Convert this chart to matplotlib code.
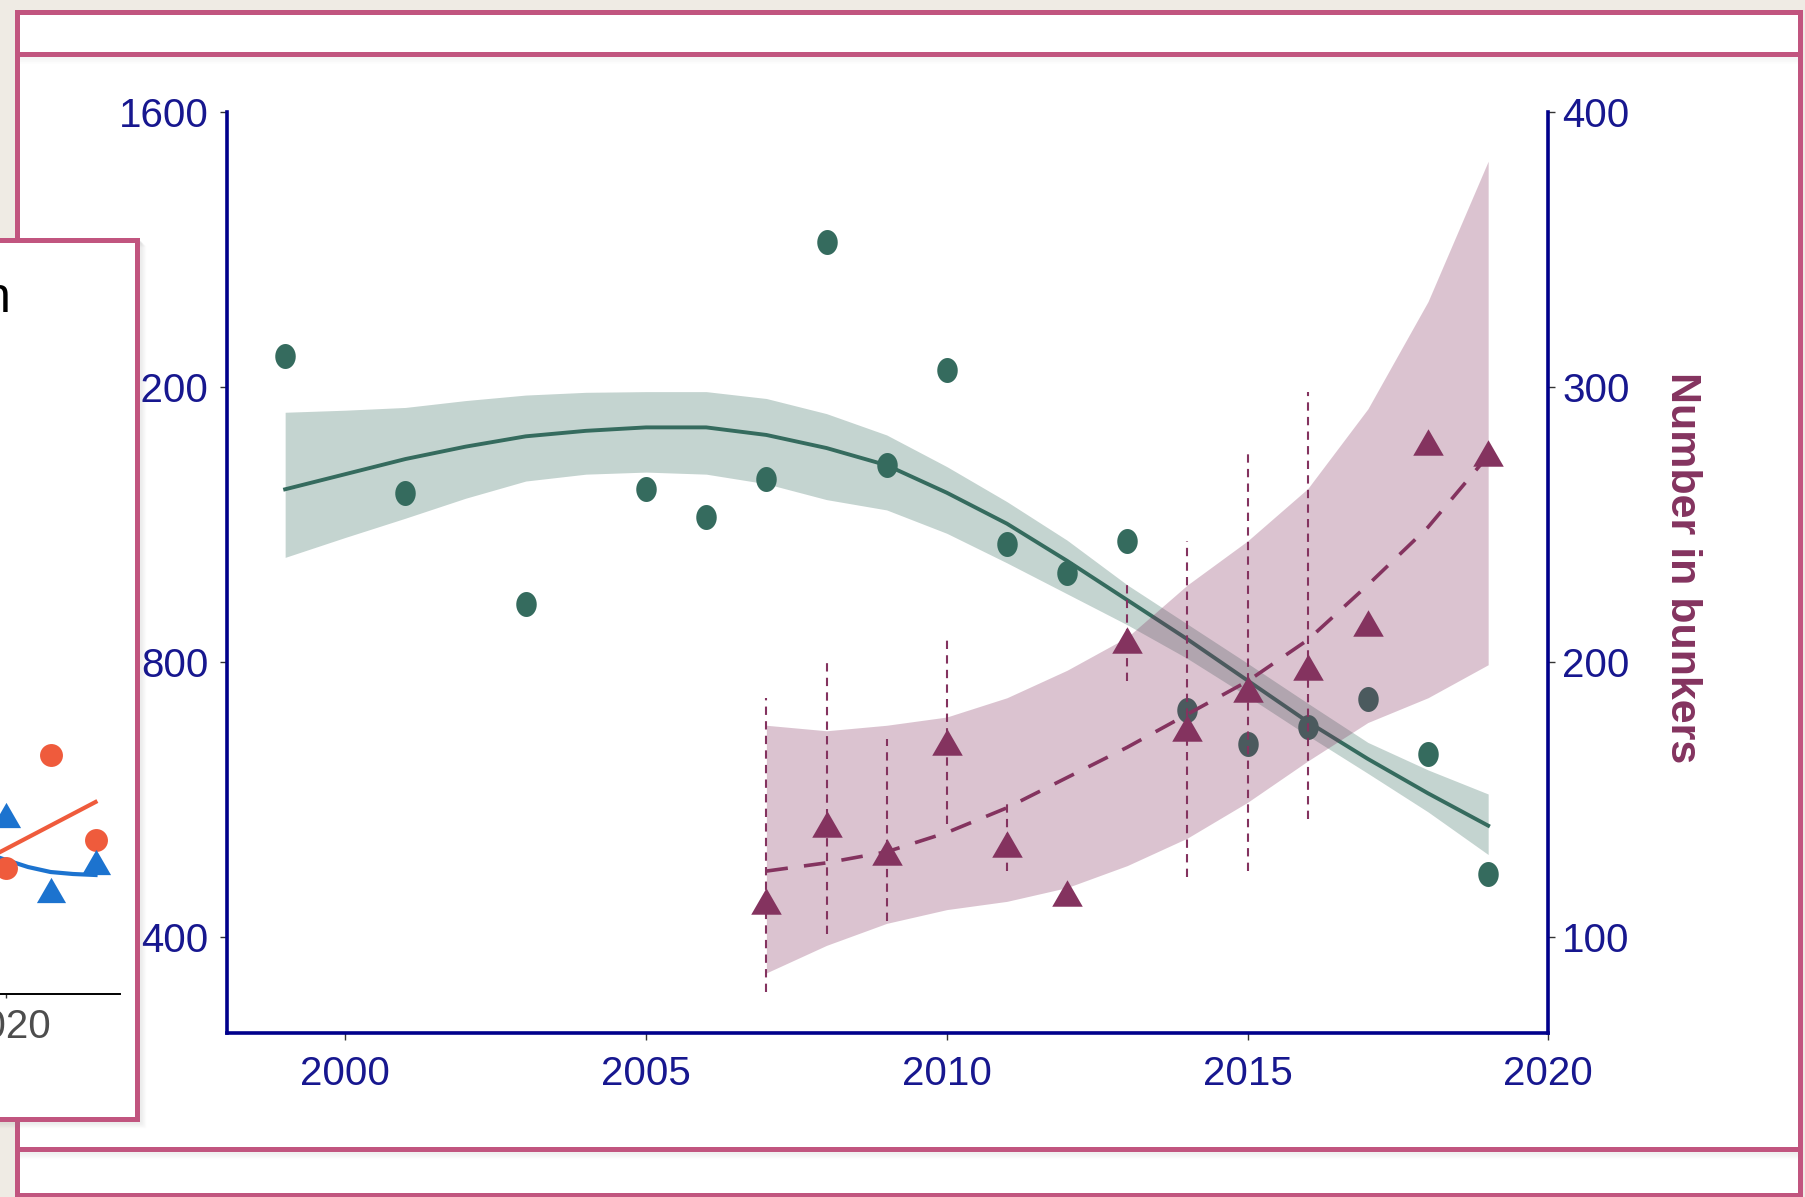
import numpy as np
import matplotlib.pyplot as plt
from matplotlib.patches import Rectangle
from matplotlib import font_manager

W, H = 1805, 1197

# ---- main chart: counts (left axis) and bunkers (right axis) ----
years_pts = [1999, 2001, 2003, 2005, 2006, 2007, 2008, 2009, 2010,
             2011, 2012, 2013, 2014, 2015, 2016, 2017, 2018, 2019]
count_pts = [1245, 1046, 884, 1051, 1011, 1066, 1411, 1086, 1225,
             971, 929, 976, 730, 681, 706, 746, 666, 492]

fit_years = list(range(1999, 2020))
fit_count = [1051, 1073, 1095, 1113, 1128, 1136, 1141, 1141, 1130, 1111, 1086,
             1046, 1001, 947, 890, 833, 773, 713, 659, 609, 562]
fit_count_lo = [952, 981, 1009, 1038, 1063, 1073, 1076, 1073, 1059, 1036, 1021,
                987, 944, 899, 854, 805, 750, 693, 638, 582, 520]
fit_count_hi = [1163, 1166, 1170, 1180, 1188, 1192, 1193, 1193, 1183, 1161, 1130,
                1084, 1033, 977, 912, 855, 798, 740, 683, 643, 608]

years_bunk = list(range(2007, 2020))
bunkers = [113, 141, 131, 171, 134, 116, 208, 176, 190, 198, 214, 280, 276]
fit_bunk = [124, 127, 131, 138, 147, 158, 169, 181, 193, 208, 228, 249, 275]
fit_bunk_lo = [87, 97, 105, 110, 113, 118, 126, 136, 149, 164, 178, 187, 199]
fit_bunk_hi = [177, 175, 177, 180, 187, 197, 209, 228, 244, 263, 292, 331, 382]

err_years = [2007, 2008, 2009, 2010, 2011, 2013, 2014, 2015, 2016]
err_lo = [80, 101, 106, 141, 124, 193, 122, 124, 143]
err_hi = [187, 200, 172, 209, 150, 228, 244, 277, 298]

x_ticks = [2000, 2005, 2010, 2015, 2020]
left_ticks = [400, 800, 1200, 1600]
right_ticks = [100, 200, 300, 400]

# ---- partly hidden side panel ----
side_years = [2020, 2021, 2022]
side_orange = [63, 119.5, 77]
side_blue = [89.5, 52, 66]
side_orange_fit_x = [2019.88, 2022]
side_orange_fit = [71, 96]
side_blue_fit_x = [2019.88, 2020.5, 2021, 2021.5, 2022]
side_blue_fit = [68, 63.5, 61, 60, 59.5]

GREEN = '#356b5e'
MAROON = '#84335f'
NAVY = '#00008b'
TICKCOL = '#17178f'
PINK = '#c1557f'
BEIGE = '#efebe4'

names = {f.name for f in font_manager.fontManager.ttflist}
if 'Liberation Sans Narrow' in names:
    TFONT, TSIZE, PSIZE = 'Liberation Sans Narrow', 34, 31
else:
    TFONT, TSIZE, PSIZE = 'Liberation Sans', 29, 29
plt.rcParams['font.family'] = [TFONT, 'DejaVu Sans']

tri = [(-1, -0.866), (1, -0.866), (0, 0.866)]
tt = np.linspace(0, 2 * np.pi, 40)
ell = list(zip(np.cos(tt) / 1.22, np.sin(tt)))

fig = plt.figure(figsize=(W / 100, H / 100), dpi=100)
fig.patch.set_facecolor(BEIGE)

# slide background and frame lines (pixel coords)
bg = fig.add_axes([0, 0, 1, 1])
bg.set_xlim(0, W)
bg.set_ylim(H, 0)
bg.axis('off')
bg.set_zorder(0)
bg.add_patch(Rectangle((17, 12), 1783, 1190, facecolor='white', edgecolor='none'))
for k in range(1, 8):
    bg.plot([17, 1800], [1151 + k, 1151 + k], color='grey', alpha=0.10 * (8 - k) / 7, lw=1)
    bg.plot([17, 1800], [56 + k, 56 + k], color='grey', alpha=0.06 * (8 - k) / 7, lw=1)
for y in [12, 54, 1149, 1195]:
    bg.plot([17, 1800], [y, y], color=PINK, lw=3.6, solid_capstyle='projecting')
for x in [17, 1800]:
    bg.plot([x, x], [12, 1197], color=PINK, lw=3.6, solid_capstyle='projecting')

# main axes
ax = fig.add_axes([0.12565, 0.13734, 0.73215, 0.76936])
ax.set_zorder(1)
ax.patch.set_visible(False)
ax2 = ax.twinx()
ax2.set_zorder(2)
ax2.patch.set_visible(False)

ax.fill_between(fit_years, fit_count_lo, fit_count_hi, color=GREEN, alpha=0.29, lw=0)
ax.plot(fit_years, fit_count, color=GREEN, lw=2.8)
ax.plot(years_pts, count_pts, ls='none', marker=ell, ms=18, color=GREEN, mec='none')

ax2.fill_between(years_bunk, fit_bunk_lo, fit_bunk_hi, color=MAROON, alpha=0.29, lw=0)
ax2.vlines(err_years, err_lo, err_hi, color=MAROON, lw=1.5, linestyles=(0, (4, 3)))
ax2.plot(years_bunk, fit_bunk, color=MAROON, lw=2.6, dashes=(6, 4.5))
ax2.plot(years_bunk, bunkers, ls='none', marker=tri, ms=22, color=MAROON, mec='none')

ax.set_xlim(1998.03, 2020)
ax.set_ylim(261.1, 1600)
ax2.set_ylim(65.3, 400)
ax.set_xticks(x_ticks)
ax.set_yticks(left_ticks)
ax2.set_yticks(right_ticks)

for s in ['top', 'right']:
    ax.spines[s].set_visible(False)
for s in ['top', 'left', 'bottom']:
    ax2.spines[s].set_visible(False)
for s in ['left', 'bottom']:
    ax.spines[s].set_color(NAVY)
    ax.spines[s].set_linewidth(2.6)
ax2.spines['right'].set_color(NAVY)
ax2.spines['right'].set_linewidth(2.6)

ax.tick_params(axis='x', direction='out', length=5, width=1, color='#333333',
               labelsize=TSIZE, labelcolor=TICKCOL, pad=11)
ax.tick_params(axis='y', direction='out', length=5, width=1, color='#333333',
               labelsize=TSIZE, labelcolor=TICKCOL, pad=8)
ax2.tick_params(axis='y', direction='out', length=5, width=1, color='#333333',
                labelsize=TSIZE, labelcolor=TICKCOL, pad=5)

ax2.set_ylabel('Number in bunkers', rotation=270, color=MAROON, fontsize=31,
               fontweight='bold', family='Liberation Sans', ha='center', va='center')
ax2.yaxis.set_label_coords(1.101, 0.505)

# side panel sitting over the left edge
ov = fig.add_axes([0, 0, 1, 1])
ov.set_xlim(0, W)
ov.set_ylim(H, 0)
ov.axis('off')
ov.set_zorder(3)
for k in range(1, 7):
    ov.add_patch(Rectangle((-10 + k, 240 + k), 149, 881, facecolor='none',
                           edgecolor='grey', alpha=0.12 * (7 - k) / 6, lw=1))
ov.add_patch(Rectangle((-10, 240), 147, 879, facecolor='white', edgecolor=PINK, lw=3.6))
ov.text(11, 312, 'n', ha='right', va='baseline', fontsize=36, color='black')

pa = fig.add_axes([-300 / W, 1 - 994 / H, 420 / W, 694 / H])
pa.set_zorder(4)
pa.patch.set_visible(False)
pa.plot(side_orange_fit_x, side_orange_fit, color='#ef5b3c', lw=3)
pa.plot(side_blue_fit_x, side_blue_fit, color='#1c73cf', lw=3)
pa.plot(side_years, side_orange, ls='none', marker='o', ms=16.5, color='#ef5b3c', mec='none')
pa.plot(side_years, side_blue, ls='none', marker=tri, ms=21, color='#1c73cf', mec='none')
pa.set_xlim(2013.211, 2022.544)
pa.set_ylim(0, 347)
for s in ['top', 'right', 'left']:
    pa.spines[s].set_visible(False)
pa.spines['bottom'].set_color('black')
pa.spines['bottom'].set_linewidth(1.4)
pa.set_xticks([2020])
pa.set_yticks([])
pa.tick_params(axis='x', length=3, width=1, color='#333333', labelsize=PSIZE,
               labelcolor='#4d4d4d', pad=7)

fig.savefig('out.png', dpi=100, facecolor=BEIGE)
